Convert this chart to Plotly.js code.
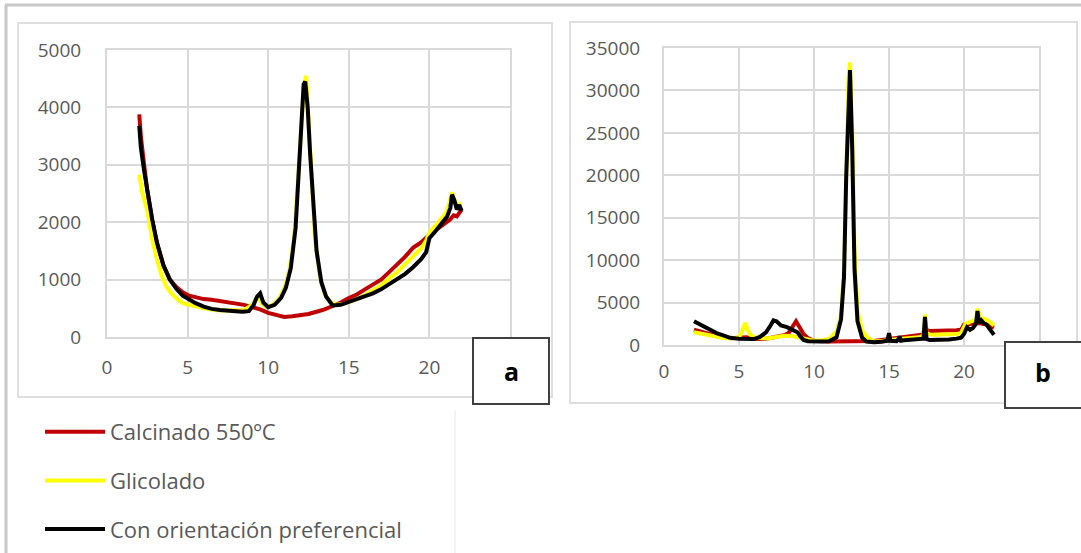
<!DOCTYPE html>
<html>
<head>
<meta charset="utf-8">
<script src="https://cdn.plot.ly/plotly-3.0.1.min.js"></script>
<style>html,body{margin:0;padding:0;background:#fff;}#chart{width:1081px;height:553px;}</style>
</head>
<body>
<div id="chart"></div>
<script>
// ---- Series names and colours ----
const seriesNames = ["Calcinado 550ºC", "Glicolado", "Con orientación preferencial"];
const seriesColors = ["#c00000", "#ffff00", "#000000"];
const panelLabels = ["a", "b"];
const xTicks = [0, 5, 10, 15, 20];

// ---- Panel a ----
const a_calc_x = [2.0, 2.1, 2.3, 2.5, 2.8, 3.1, 3.5, 3.9, 4.3, 4.7, 5.1, 5.5, 6.0, 6.5, 7.0, 7.5, 8.0, 8.5, 9.0, 9.5, 10.0, 10.5, 11.0, 11.5, 12.0, 12.5, 13.0, 13.5, 14.0, 14.5, 15.0, 15.5, 16.0, 16.5, 17.0, 17.5, 18.0, 18.5, 19.0, 19.5, 20.0, 20.5, 21.0, 21.3, 21.5, 21.7, 22.0];
const a_calc_y = [3880, 3500, 3000, 2550, 2050, 1640, 1250, 1000, 870, 780, 720, 690, 660, 650, 630, 610, 590, 560, 520, 480, 420, 380, 350, 360, 380, 400, 440, 480, 540, 600, 680, 740, 830, 910, 1000, 1130, 1260, 1400, 1560, 1650, 1780, 1880, 1980, 2050, 2120, 2100, 2220];
const a_glic_x = [2.0, 2.2, 2.5, 2.8, 3.1, 3.4, 3.7, 4.0, 4.4, 4.7, 5.1, 5.5, 6.0, 6.5, 7.0, 7.5, 8.0, 8.5, 8.9, 9.2, 9.4, 9.6, 9.9, 10.3, 10.7, 11.0, 11.3, 11.6, 11.8, 12.0, 12.2, 12.35, 12.5, 12.7, 12.9, 13.2, 13.5, 13.8, 14.2, 14.6, 15.0, 15.5, 16.0, 16.5, 17.0, 17.5, 18.0, 18.5, 19.0, 19.5, 19.8, 20.0, 20.5, 21.0, 21.2, 21.4, 21.6, 21.8, 22.0];
const a_glic_y = [2830, 2500, 2200, 1700, 1350, 1060, 870, 760, 650, 590, 560, 530, 500, 480, 460, 460, 460, 470, 540, 650, 700, 580, 520, 560, 680, 850, 1150, 1700, 2500, 3400, 4350, 4550, 3800, 2600, 1700, 1050, 750, 620, 560, 570, 610, 660, 730, 820, 900, 1020, 1130, 1270, 1400, 1550, 1680, 1820, 1980, 2150, 2300, 2520, 2350, 2300, 2320];
const a_orien_x = [2.0, 2.1, 2.3, 2.5, 2.8, 3.1, 3.5, 3.9, 4.3, 4.7, 5.1, 5.5, 6.0, 6.5, 7.0, 7.5, 8.0, 8.4, 8.8, 9.1, 9.3, 9.5, 9.7, 10.0, 10.4, 10.8, 11.1, 11.4, 11.7, 11.9, 12.05, 12.2, 12.3, 12.45, 12.6, 12.8, 13.0, 13.3, 13.6, 14.0, 14.5, 15.0, 15.5, 16.0, 16.5, 17.0, 17.5, 18.0, 18.5, 19.0, 19.5, 19.8, 20.0, 20.4, 20.8, 21.1, 21.3, 21.4, 21.55, 21.7, 21.85, 22.0];
const a_orien_y = [3680, 3300, 2900, 2520, 2050, 1640, 1250, 1000, 840, 720, 650, 590, 530, 490, 470, 455, 450, 440, 450, 560, 700, 760, 600, 520, 560, 680, 860, 1200, 1900, 2800, 3700, 4400, 4450, 4000, 3200, 2200, 1500, 950, 700, 550, 560, 610, 660, 720, 760, 830, 920, 1000, 1100, 1220, 1360, 1480, 1720, 1850, 1980, 2100, 2250, 2480, 2380, 2220, 2300, 2200];

// ---- Panel b ----
const b_calc_x = [2.0, 2.5, 3.0, 3.5, 4.0, 4.5, 5.0, 5.5, 6.0, 6.5, 7.0, 7.5, 8.0, 8.3, 8.6, 8.8, 9.0, 9.3, 9.6, 10.0, 11.0, 12.0, 13.0, 14.0, 15.0, 16.0, 17.0, 17.3, 17.4, 17.5, 17.7, 18.0, 18.5, 19.0, 19.5, 19.8, 20.0, 20.5, 21.0, 21.5, 22.0];
const b_calc_y = [1800, 1500, 1300, 1050, 900, 800, 850, 900, 750, 700, 800, 950, 1150, 1400, 2200, 2800, 2200, 1300, 800, 500, 420, 420, 430, 480, 700, 900, 1100, 1250, 2800, 1800, 1650, 1650, 1700, 1700, 1750, 1800, 2400, 2500, 2600, 2400, 2050];
const b_glic_x = [2.0, 2.5, 3.0, 3.5, 4.0, 4.5, 5.0, 5.2, 5.4, 5.7, 6.0, 6.5, 7.0, 7.5, 8.0, 8.5, 9.0, 9.5, 10.0, 10.5, 11.0, 11.5, 11.8, 12.0, 12.15, 12.3, 12.4, 12.55, 12.7, 12.9, 13.2, 13.6, 14.0, 14.5, 15.0, 15.5, 16.0, 16.5, 17.0, 17.3, 17.4, 17.5, 17.7, 18.0, 18.5, 19.0, 19.5, 19.8, 20.1, 20.5, 20.8, 20.9, 21.1, 21.3, 21.6, 22.0];
const b_glic_y = [1500, 1300, 1100, 950, 800, 800, 900, 1600, 2600, 1300, 900, 800, 800, 950, 1100, 1050, 850, 600, 500, 550, 700, 1600, 3500, 9000, 22000, 31500, 33300, 25000, 11000, 4000, 1700, 800, 450, 450, 600, 650, 700, 800, 900, 1100, 3600, 1400, 1250, 1200, 1200, 1200, 1300, 1400, 2500, 2800, 3000, 4300, 3200, 3100, 2900, 2300];
const b_orien_x = [2.0, 2.3, 2.7, 3.0, 3.5, 4.0, 4.4, 5.0, 5.5, 6.0, 6.4, 6.8, 7.1, 7.3, 7.5, 7.8, 8.2, 8.6, 8.9, 9.1, 9.3, 9.6, 10.0, 10.5, 11.0, 11.5, 11.8, 12.0, 12.15, 12.3, 12.4, 12.55, 12.7, 12.9, 13.2, 13.5, 14.0, 14.5, 14.9, 15.0, 15.1, 15.5, 15.6, 15.7, 15.8, 16.0, 16.5, 17.0, 17.3, 17.4, 17.5, 17.7, 18.0, 18.5, 19.0, 19.5, 19.8, 20.0, 20.2, 20.4, 20.6, 20.8, 20.9, 21.0, 21.15, 21.3, 21.5, 21.7, 21.9, 22.0];
const b_orien_y = [2800, 2500, 2100, 1800, 1400, 1100, 850, 750, 700, 700, 950, 1500, 2300, 2900, 2800, 2300, 2100, 1800, 1500, 1000, 600, 450, 380, 400, 450, 900, 3000, 8000, 20000, 30000, 32400, 23000, 9000, 2800, 900, 400, 330, 380, 500, 1400, 500, 450, 600, 1000, 500, 550, 600, 650, 750, 3300, 700, 600, 600, 620, 650, 750, 850, 1300, 2100, 1800, 2000, 2500, 4000, 2600, 2900, 2600, 2400, 1900, 1500, 1200];

// ---- build traces ----
const aX = [a_calc_x, a_glic_x, a_orien_x];
const aY = [a_calc_y, a_glic_y, a_orien_y];
const bX = [b_calc_x, b_glic_x, b_orien_x];
const bY = [b_calc_y, b_glic_y, b_orien_y];
const traces = [];
for (let i = 0; i < 3; i++) {
  traces.push({x: aX[i], y: aY[i], type: 'scatter', mode: 'lines', name: seriesNames[i],
    line: {color: seriesColors[i], width: 4, shape: 'linear'}, xaxis: 'x', yaxis: 'y',
    legendgroup: 'g' + i, showlegend: true});
}
for (let i = 0; i < 3; i++) {
  traces.push({x: bX[i], y: bY[i], type: 'scatter', mode: 'lines', name: seriesNames[i],
    line: {color: seriesColors[i], width: 4}, xaxis: 'x2', yaxis: 'y2',
    legendgroup: 'g' + i, showlegend: false});
}

const W = 1081, H = 553;
const px = v => v / W;
const py = v => 1 - v / H;
const gridC = '#d9d9d9';
const tickFont = {family: 'Open Sans, sans-serif', size: 19, color: '#595959'};

function axisX(domain, anchor, standoff) {
  return {domain: domain, anchor: anchor, range: [0, 25], tickvals: xTicks, showgrid: true,
    gridcolor: gridC, gridwidth: 2, zeroline: false, showline: true, linecolor: gridC, linewidth: 2,
    mirror: true, ticks: '', tickfont: tickFont, ticklabelstandoff: standoff, fixedrange: true};
}
function axisY(domain, anchor, range, dtick, standoff) {
  return {domain: domain, anchor: anchor, range: range, dtick: dtick, showgrid: true,
    gridcolor: gridC, gridwidth: 2, zeroline: false, showline: true, linecolor: gridC, linewidth: 2,
    mirror: true, ticks: '', tickfont: tickFont, tickformat: 'd', ticklabelstandoff: standoff, fixedrange: true};
}

const layout = {
  width: W, height: H, margin: {l: 0, r: 0, t: 0, b: 0},
  paper_bgcolor: '#ffffff', plot_bgcolor: '#ffffff',
  xaxis: axisX([px(107), px(510)], 'y', 12),
  yaxis: axisY([py(337), py(50)], 'x', [0, 5000], 1000, 20),
  xaxis2: axisX([px(664), px(1039)], 'y2', 8),
  yaxis2: axisY([py(345), py(48)], 'x2', [0, 35000], 5000, 18),
  showlegend: true,
  legend: {x: px(40), y: py(411), xanchor: 'left', yanchor: 'top', bgcolor: 'rgba(0,0,0,0)',
    font: {family: 'Open Sans, sans-serif', size: 22, color: '#595959'},
    traceorder: 'grouped', tracegroupgap: 17, itemwidth: 60},
  shapes: [
    // outer frame
    {type: 'line', xref: 'paper', yref: 'paper', x0: px(5), x1: 1, y0: py(5), y1: py(5), line: {color: '#c8c8c8', width: 3}},
    {type: 'line', xref: 'paper', yref: 'paper', x0: px(6), x1: px(6), y0: py(5), y1: 0, line: {color: '#c8c8c8', width: 3}},
    // chart area boxes
    {type: 'rect', xref: 'paper', yref: 'paper', x0: px(18), x1: px(552), y0: py(397), y1: py(23), line: {color: '#dedede', width: 2}},
    {type: 'rect', xref: 'paper', yref: 'paper', x0: px(570), x1: px(1077), y0: py(403), y1: py(22), line: {color: '#dedede', width: 2}},
    // legend box edge
    {type: 'line', xref: 'paper', yref: 'paper', x0: px(455), x1: px(455), y0: py(410), y1: 0, line: {color: '#f0f0f0', width: 1.5}},
    // panel label boxes
    {type: 'rect', xref: 'paper', yref: 'paper', x0: px(473), x1: px(549), y0: py(404), y1: py(338), fillcolor: '#ffffff', line: {color: '#404040', width: 2}},
    {type: 'rect', xref: 'paper', yref: 'paper', x0: px(1005), x1: px(1082), y0: py(408), y1: py(342), fillcolor: '#ffffff', line: {color: '#404040', width: 2}}
  ],
  annotations: [
    {xref: 'paper', yref: 'paper', x: px(511), y: py(371), text: '<b>' + panelLabels[0] + '</b>', showarrow: false,
      font: {family: 'Open Sans, sans-serif', size: 25, color: '#000'}, xanchor: 'center', yanchor: 'middle'},
    {xref: 'paper', yref: 'paper', x: px(1043), y: py(372), text: '<b>' + panelLabels[1] + '</b>', showarrow: false,
      font: {family: 'Open Sans, sans-serif', size: 25, color: '#000'}, xanchor: 'center', yanchor: 'middle'}
  ]
};

Plotly.newPlot('chart', traces, layout, {staticPlot: true, displayModeBar: false});
</script>
</body>
</html>
